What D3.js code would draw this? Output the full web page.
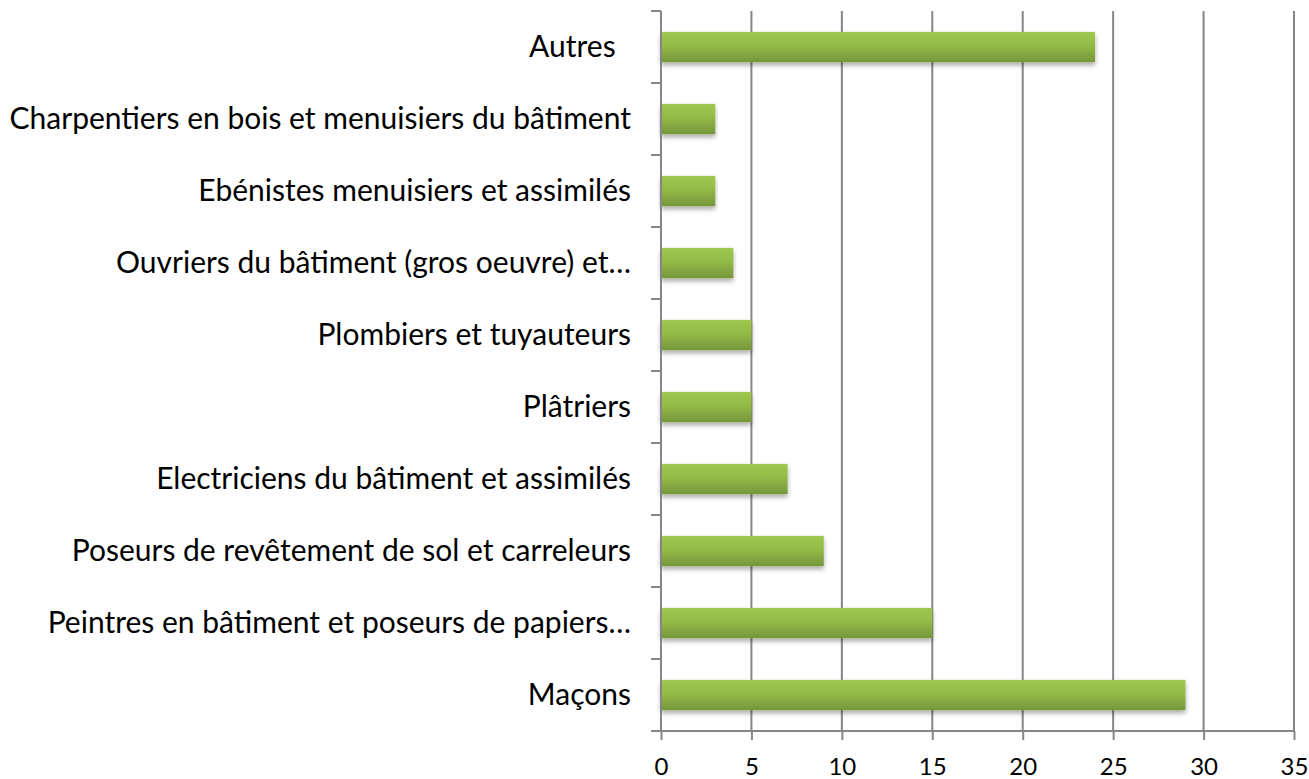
<!DOCTYPE html>
<html>
<head>
<meta charset="utf-8">
<script src="https://cdn.jsdelivr.net/npm/d3@7"></script>
<style>
  body { margin: 0; background: #fff; }
  svg { display: block; font-family: Lato, "Open Sans", sans-serif; }
  .axis text { fill: #000; font-family: Lato, "Open Sans", sans-serif; }
  .x.axis text { font-size: 24px; }
  .y.axis text { font-size: 30px; }
  .axis path, .axis line { stroke: #868686; stroke-width: 2; }
</style>
</head>
<body>
<svg id="chart" width="1309" height="779"></svg>
<script>
// categories bottom to top, as in the picture
const categories = [
  "Maçons",
  "Peintres en bâtiment et poseurs de papiers…",
  "Poseurs de revêtement de sol et carreleurs",
  "Electriciens du bâtiment et assimilés",
  "Plâtriers",
  "Plombiers et tuyauteurs",
  "Ouvriers du bâtiment (gros oeuvre) et…",
  "Ebénistes menuisiers et assimilés",
  "Charpentiers en bois et menuisiers du bâtiment",
  "Autres\u00a0\u00a0"
]
const values = [29, 15, 9, 7, 5, 5, 4, 3, 3, 24]
const xTicks = [0, 5, 10, 15, 20, 25, 30, 35]

const svg = d3.select("#chart")
const margin = {top: 11, right: 15, bottom: 48, left: 661}
const width = +svg.attr("width")
const height = +svg.attr("height")

const data = categories.map((c, i) => ({ name: c, value: values[i] }))

const xScale = d3.scaleLinear()
  .domain([0, 35])
  .range([margin.left, width - margin.right])

// top of chart is the last category
const yScale = d3.scaleBand()
  .domain(categories.slice().reverse())
  .range([margin.top, height - margin.bottom])
  .paddingInner(0.58)
  .paddingOuter(0.29)

const defs = svg.append("defs")
const grad = defs.append("linearGradient")
  .attr("id", "barGrad")
  .attr("x1", 0).attr("y1", 0).attr("x2", 0).attr("y2", 1)
grad.append("stop").attr("offset", "0%").attr("stop-color", "#9ec84e")
grad.append("stop").attr("offset", "45%").attr("stop-color", "#93bb47")
grad.append("stop").attr("offset", "100%").attr("stop-color", "#76963a")

const shadow = defs.append("filter")
  .attr("id", "shadow")
  .attr("x", "-5%").attr("y", "-20%")
  .attr("width", "110%").attr("height", "160%")
shadow.append("feDropShadow")
  .attr("dx", 0).attr("dy", 3)
  .attr("stdDeviation", 2.5)
  .attr("flood-color", "#000")
  .attr("flood-opacity", 0.35)

// vertical gridlines
svg.append("g")
  .selectAll("line")
  .data(xTicks.slice(1))
  .enter()
  .append("line")
  .attr("x1", d => xScale(d))
  .attr("x2", d => xScale(d))
  .attr("y1", margin.top)
  .attr("y2", height - margin.bottom)
  .attr("stroke", "#868686")
  .attr("stroke-width", 2)

// bars
svg.append("g")
  .selectAll("rect")
  .data(data)
  .enter()
  .append("rect")
  .attr("x", xScale(0))
  .attr("y", d => yScale(d.name))
  .attr("width", d => xScale(d.value) - xScale(0))
  .attr("height", yScale.bandwidth())
  .attr("fill", "url(#barGrad)")
  .attr("filter", "url(#shadow)")

// x axis
const xAxis = svg.append("g")
  .attr("class", "x axis")
  .attr("transform", `translate(0, ${height - margin.bottom})`)
  .call(d3.axisBottom(xScale).tickValues(xTicks).tickSize(9).tickSizeOuter(0).tickPadding(14))
xAxis.attr("font-family", null).attr("font-size", null)
xAxis.select(".domain").attr("d", `M${xScale(0)},0H${xScale(35)}`)
xAxis.selectAll("text").attr("dy", null).attr("y", 44)

// y axis, ticks sit between the categories
const step = yScale.step()
const yAxis = svg.append("g")
  .attr("class", "y axis")
  .attr("transform", `translate(${margin.left}, 0)`)
yAxis.append("path")
  .attr("class", "domain")
  .attr("d", `M0,${margin.top}V${height - margin.bottom}`)
  .attr("fill", "none")
yAxis.selectAll(".sep")
  .data(d3.range(categories.length + 1))
  .enter()
  .append("line")
  .attr("class", "sep")
  .attr("x1", -10).attr("x2", 0)
  .attr("y1", i => margin.top + i * step)
  .attr("y2", i => margin.top + i * step)
yAxis.selectAll(".lbl")
  .data(categories)
  .enter()
  .append("text")
  .attr("class", "lbl")
  .attr("x", -30)
  .attr("y", d => yScale(d) + yScale.bandwidth() / 2)
  .attr("dy", "0.32em")
  .attr("text-anchor", "end")
  .style("white-space", "pre")
  .text(d => d)
</script>
</body>
</html>
